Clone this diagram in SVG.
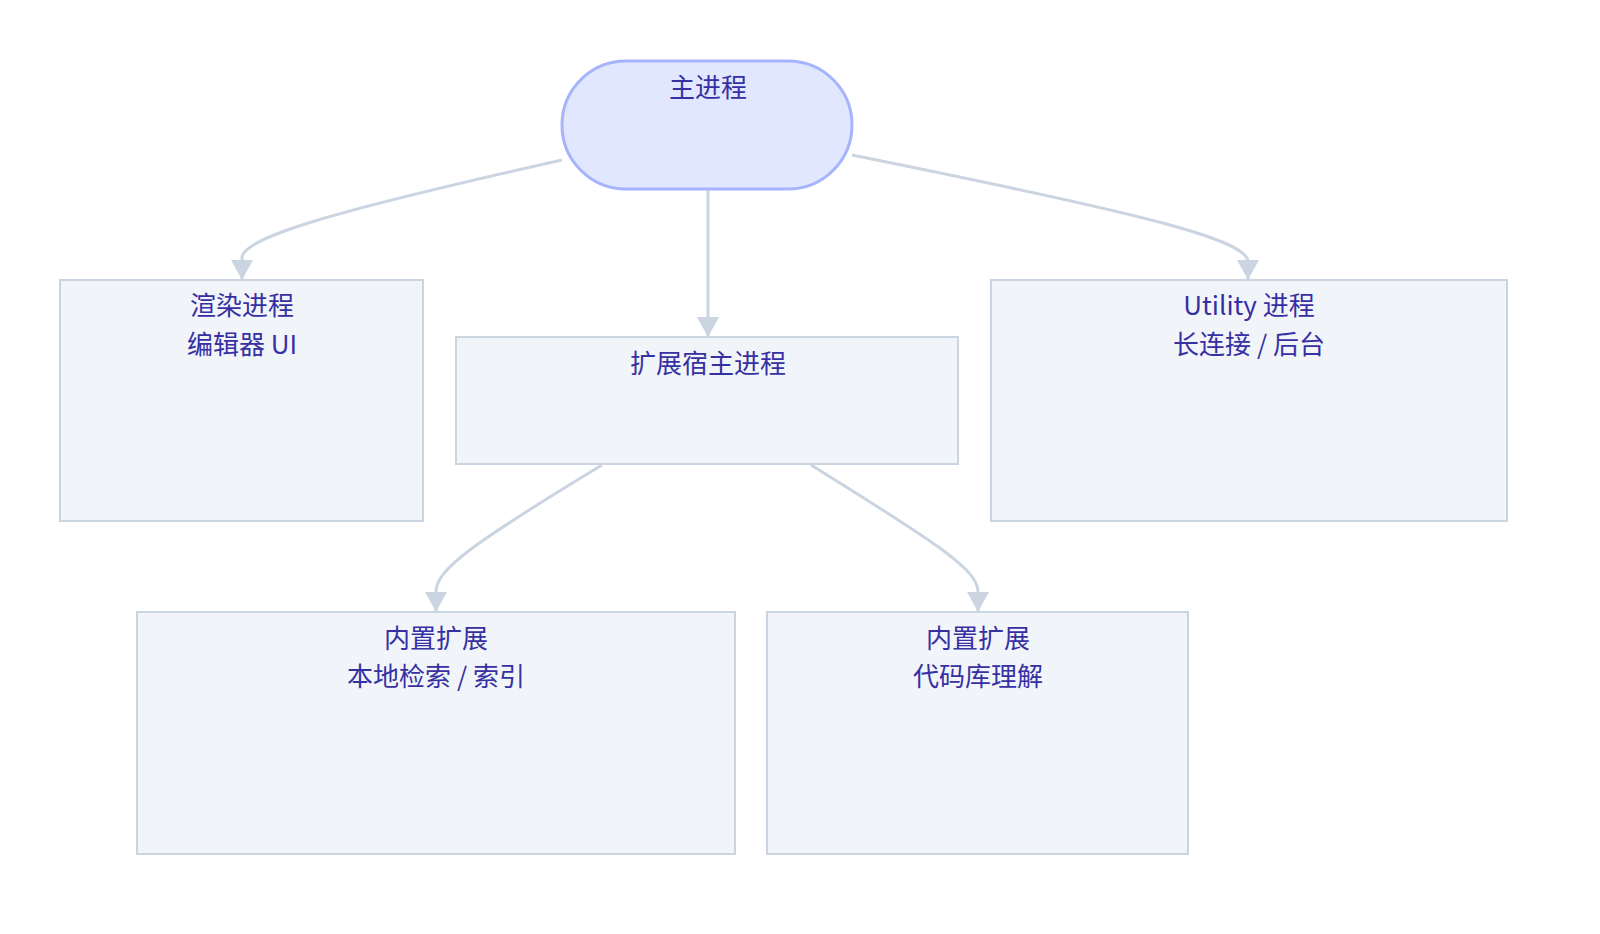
<svg xmlns="http://www.w3.org/2000/svg" width="1600" height="934" viewBox="0 0 1600 934">
<style>
.n{fill:#f1f5fa;stroke:#cbd5e1;stroke-width:2}
.t{font-family:"Noto Sans CJK SC","Noto Sans",sans-serif;font-size:26px;fill:#3730a3;text-anchor:middle}
.e{fill:none;stroke:#cbd5e1;stroke-width:3}
</style>
<defs><marker id="a" markerUnits="userSpaceOnUse" markerWidth="22" markerHeight="22" refX="20" refY="11" orient="auto"><path d="M0,0 L20,11 L0,22 Z" fill="#cbd5e1"/></marker></defs>
<rect width="1600" height="934" fill="#fff"/>
<g id="edges">
<path class="e" marker-end="url(#a)" d="M562,160 C330,212 242,238 242,258 L242,280"/>
<path class="e" marker-end="url(#a)" d="M708,190 L708,337"/>
<path class="e" marker-end="url(#a)" d="M852,155 C1150,215 1248,240 1248,262 L1248,280"/>
<path class="e" marker-end="url(#a)" d="M602,465 C470,545 436,570 436,592 L436,612"/>
<path class="e" marker-end="url(#a)" d="M811,465 C940,545 978,570 978,592 L978,612"/>
</g>
<g id="main"><rect x="562" y="61" width="290" height="128" rx="64" fill="#e0e7ff" stroke="#a5b4fc" stroke-width="3"/><text class="t" x="708" y="97">主进程</text></g>
<g id="renderer"><rect class="n" x="60" y="280" width="363" height="241"/><text class="t" x="242" y="315">渲染进程</text><text class="t" x="242" y="354">编辑器 UI</text></g>
<g id="exthost"><rect class="n" x="456" y="337" width="502" height="127"/><text class="t" x="708" y="373">扩展宿主进程</text></g>
<g id="utility"><rect class="n" x="991" y="280" width="516" height="241"/><text class="t" x="1249" y="315">Utility 进程</text><text class="t" x="1249" y="354">长连接 / 后台</text></g>
<g id="ext1"><rect class="n" x="137" y="612" width="598" height="242"/><text class="t" x="436" y="648">内置扩展</text><text class="t" x="436" y="686">本地检索 / 索引</text></g>
<g id="ext2"><rect class="n" x="767" y="612" width="421" height="242"/><text class="t" x="978" y="648">内置扩展</text><text class="t" x="978" y="686">代码库理解</text></g>
</svg>
